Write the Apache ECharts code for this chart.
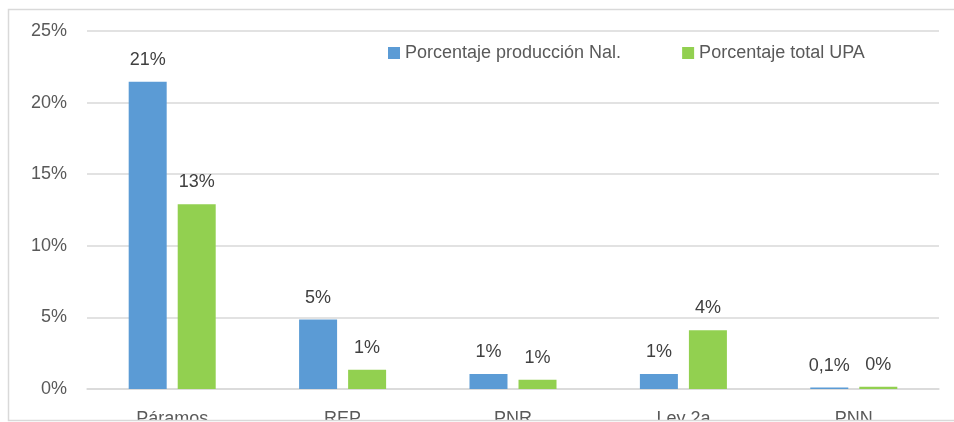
<!DOCTYPE html>
<html>
<head>
<meta charset="utf-8">
<script src="https://cdn.jsdelivr.net/npm/echarts@6/dist/echarts.min.js"></script>
<style>
  html, body { margin: 0; padding: 0; background: #ffffff; }
  #chart { width: 954px; height: 422px; }
</style>
</head>
<body>
<div id="chart"></div>
<script>
// Zonas / figuras de protección
var categories = ['Páramos', 'REP', 'PNR', 'Ley 2a', 'PNN'];

// Porcentaje de la producción nacional (%)
var produccionNal = [21.45, 4.85, 1.05, 1.05, 0.1];
var produccionNalLabels = ['21%', '5%', '1%', '1%', '0,1%'];

// Porcentaje del total de UPA (%)
var totalUPA = [12.9, 1.35, 0.65, 4.1, 0.15];
var totalUPALabels = ['13%', '1%', '1%', '4%', '0%'];

var seriesNames = ['Porcentaje producción Nal.', 'Porcentaje total UPA'];

var FONT = '"Liberation Sans", Arial, sans-serif';
var TEXT = '#595959';
var GRID = '#d9d9d9';
var FS = 18;

var chart = echarts.init(document.getElementById('chart'), null, { renderer: 'canvas' });

function labelFrom(list) {
  return {
    show: true,
    position: 'top',
    distance: 13,
    color: '#404040',
    fontFamily: FONT,
    fontSize: FS,
    formatter: function (p) { return list[p.dataIndex]; }
  };
}

chart.setOption({
  animation: false,
  backgroundColor: '#ffffff',
  textStyle: { fontFamily: FONT },
  grid: {
    left: 87, right: 15, top: 31, bottom: 33,
    containLabel: false,
    outerBoundsMode: 'none'
  },
  legend: {
    left: 383,
    top: 39,
    itemWidth: 12,
    itemHeight: 12,
    itemGap: 61,
    icon: 'rect',
    textStyle: { color: TEXT, fontFamily: FONT, fontSize: FS },
    data: seriesNames
  },
  xAxis: {
    type: 'category',
    data: categories,
    axisLine: { show: true, lineStyle: { color: GRID, width: 1.5 } },
    axisTick: { show: false },
    axisLabel: { color: TEXT, fontFamily: FONT, fontSize: FS, margin: 21 }
  },
  yAxis: {
    type: 'value',
    min: 0,
    max: 25,
    interval: 5,
    axisLine: { show: false },
    axisTick: { show: false },
    splitLine: { lineStyle: { color: GRID, width: 1.5 } },
    axisLabel: {
      color: TEXT, fontFamily: FONT, fontSize: FS, margin: 20,
      formatter: function (v) { return v + '%'; }
    }
  },
  series: [
    {
      name: seriesNames[0],
      type: 'bar',
      data: produccionNal,
      barWidth: 38,
      barGap: '29%',
      itemStyle: { color: '#5b9bd5' },
      label: labelFrom(produccionNalLabels)
    },
    {
      name: seriesNames[1],
      type: 'bar',
      data: totalUPA,
      barWidth: 38,
      barGap: '29%',
      itemStyle: { color: '#92d050' },
      label: labelFrom(totalUPALabels)
    }
  ],
  graphic: [
    {
      type: 'rect',
      z: 100,
      shape: { x: 0, y: 420.5, width: 954, height: 3 },
      style: { fill: '#ffffff' }
    },
    {
      type: 'rect',
      z: 101,
      shape: { x: 8.5, y: 9.5, width: 960, height: 411 },
      style: { fill: 'none', stroke: '#d9d9d9', lineWidth: 1.5 }
    }
  ]
});
</script>
</body>
</html>
